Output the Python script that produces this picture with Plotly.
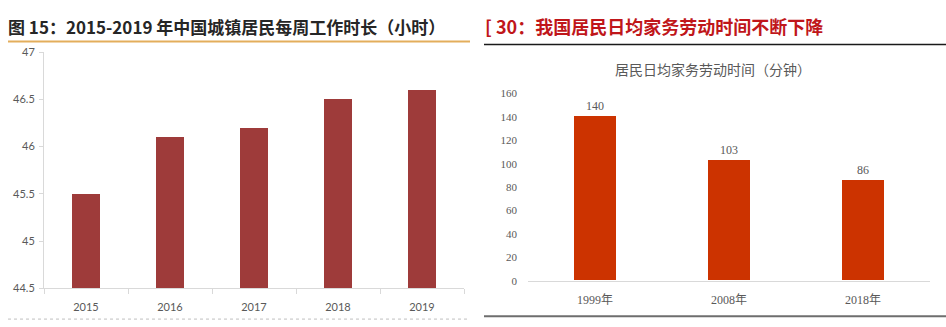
import plotly.graph_objects as go

# Left chart data
years_left = ["2015", "2016", "2017", "2018", "2019"]
hours_weekly = [45.5, 46.1, 46.2, 46.5, 46.6]
left_ticks = [44.5, 45, 45.5, 46, 46.5, 47]
left_ticktext = ["44.5", "45", "45.5", "46", "46.5", "47"]

# Right chart data
years_right = ["1999年", "2008年", "2018年"]
housework_minutes = [140, 103, 86]
right_ticks = [0, 20, 40, 60, 80, 100, 120, 140, 160]

W, H = 946, 327
def px(x):
    return x / W
def py(y):
    return 1 - y / H

fig = go.Figure()

fig.add_trace(go.Bar(
    x=years_left, y=hours_weekly, xaxis="x", yaxis="y",
    marker=dict(color="#9E3B3A", line=dict(width=0)),
    width=0.33, showlegend=False,
))
fig.add_trace(go.Bar(
    x=years_right, y=housework_minutes, xaxis="x2", yaxis="y2",
    marker=dict(color="#CC3300", line=dict(width=0)),
    width=0.31, showlegend=False,
    text=[str(v) for v in housework_minutes], textposition="outside",
    textfont=dict(family="Liberation Serif, DejaVu Serif, serif", size=12, color="#595959"),
    cliponaxis=False,
))

fig.update_layout(
    width=W, height=H,
    margin=dict(l=0, r=0, t=0, b=0),
    paper_bgcolor="white", plot_bgcolor="white",
    bargap=0,
    xaxis=dict(
        domain=[px(44), px(464)], anchor="y",
        showline=True, linecolor="#D9D9D9", linewidth=1,
        ticks="outside", tickson="boundaries", ticklen=5, tickcolor="#D9D9D9",
        ticklabelstandoff=8,
        showgrid=False,
        tickfont=dict(family="Lato, Open Sans, sans-serif", size=11, color="#595959"),
        fixedrange=True,
    ),
    yaxis=dict(
        domain=[py(293), py(47)], anchor="x",
        range=[44.5, 47], tickvals=left_ticks, ticktext=left_ticktext,
        showline=True, linecolor="#D9D9D9", linewidth=1,
        ticks="outside", ticklen=4, tickcolor="#D9D9D9",
        ticklabelstandoff=2,
        showgrid=False, zeroline=False,
        tickfont=dict(family="Lato, Open Sans, sans-serif", size=11, color="#595959"),
    ),
    xaxis2=dict(
        domain=[px(528), px(930)], anchor="y2",
        showline=True, linecolor="#D9D9D9", linewidth=1,
        ticks="", showgrid=False, ticklabelstandoff=8,
        tickfont=dict(family="Liberation Serif, Noto Sans CJK SC, serif", size=12, color="#595959"),
    ),
    yaxis2=dict(
        domain=[py(285), py(90)], anchor="x2",
        range=[0, 160], tickvals=right_ticks,
        showline=False, ticks="", showgrid=False, zeroline=False,
        ticklabelstandoff=10,
        tickfont=dict(family="Liberation Serif, DejaVu Serif, serif", size=11, color="#595959"),
    ),
)

# Titles
fig.add_annotation(
    x=px(6), y=py(20), xref="paper", yref="paper", xanchor="left", yanchor="middle",
    text="<b>图 15：2015-2019 年中国城镇居民每周工作时长（小时）</b>", showarrow=False,
    font=dict(family="Noto Sans CJK SC, sans-serif", size=17, color="#262626"),
)
fig.add_annotation(
    x=px(483), y=py(20), xref="paper", yref="paper", xanchor="left", yanchor="middle",
    text="<b>[ 30：我国居民日均家务劳动时间不断下降</b>", showarrow=False,
    font=dict(family="Noto Sans CJK SC, sans-serif", size=18, color="#C0161A"),
)
fig.add_annotation(
    x=px(713), y=py(65), xref="paper", yref="paper", xanchor="center", yanchor="middle",
    text="居民日均家务劳动时间（分钟）", showarrow=False,
    font=dict(family="Noto Sans CJK SC, sans-serif", size=14, color="#595959"),
)

# Separator lines
fig.add_shape(type="line", xref="paper", yref="paper",
              x0=px(8), x1=px(470), y0=py(36), y1=py(36),
              line=dict(color="#E3AE5C", width=2))
fig.add_shape(type="line", xref="paper", yref="paper",
              x0=px(484), x1=px(946), y0=py(39), y1=py(39),
              line=dict(color="#1a1a1a", width=1.5))
fig.add_shape(type="line", xref="paper", yref="paper",
              x0=px(484), x1=px(946), y0=py(322), y1=py(322),
              line=dict(color="#6e6e6e", width=2))
fig.add_shape(type="line", xref="paper", yref="paper",
              x0=px(8), x1=px(470), y0=py(325), y1=py(325),
              line=dict(color="#BFBFBF", width=1, dash="dot"))

fig.write_html("out.html")
